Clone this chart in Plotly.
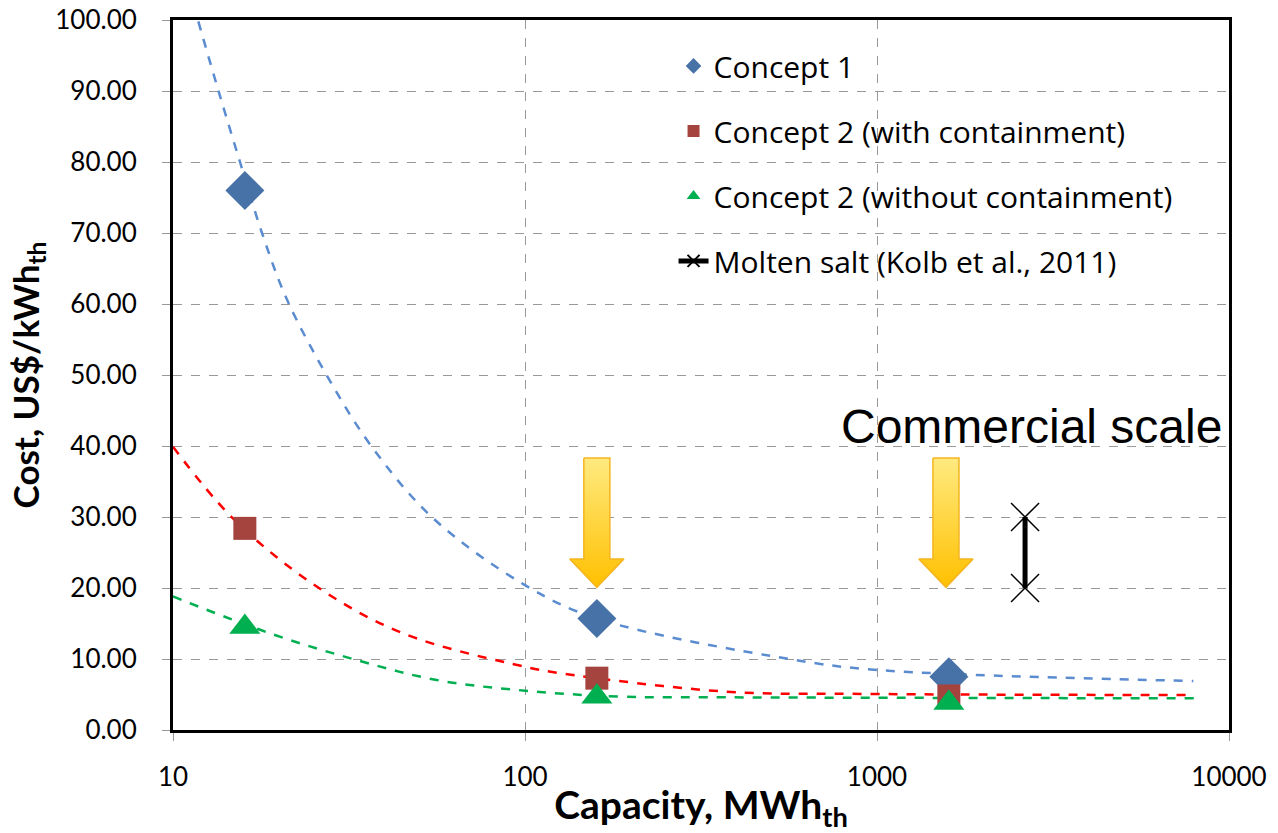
import numpy as np
import plotly.graph_objects as go

# ---- data ----
capacity = [16, 160, 1600]
concept1 = [76.0, 15.7, 7.5]
concept2_with = [28.4, 7.3, 4.8]
concept2_without = [14.5, 4.7, 3.8]

# dashed trend curves
trend1_x = [11.8, 13.45, 15.5, 17.9, 21.0, 27.3, 36.7, 54.9, 100, 160, 578, 1009, 7920]
trend1_y = [99.8, 90.1, 80.0, 70.0, 60.8, 50.0, 39.9, 29.8, 20.4, 15.7, 9.9, 8.45, 6.9]
trend2_x = [10, 14.8, 25.6, 45.1, 100, 126, 374, 1009, 7920]
trend2_y = [39.9, 29.8, 20.2, 13.6, 8.9, 8.0, 5.4, 5.07, 4.93]
trend3_x = [10, 18.9, 33.2, 56.1, 100, 186, 374, 8200]
trend3_y = [18.8, 13.6, 9.86, 7.04, 5.54, 4.7, 4.6, 4.46]

molten_x = [2634, 2634]
molten_y = [20, 30]

arrow_centers = [160, 1570]
arrow_top, arrow_headbase, arrow_tip = 38.3, 24.1, 20.1

x_ticks = [10, 100, 1000, 10000]
y_ticks = list(range(0, 101, 10))

BLUE = "#4672A8"
RED = "#A5443F"
GREEN = "#00B050"

fig = go.Figure()

# trend lines
fig.add_trace(go.Scatter(x=trend1_x, y=trend1_y, mode="lines", line=dict(color="#5B8CD0", dash="dash", width=2.5, shape="spline"), showlegend=False, hoverinfo="skip"))
fig.add_trace(go.Scatter(x=trend2_x, y=trend2_y, mode="lines", line=dict(color="#FF0000", dash="dash", width=2.5, shape="spline"), showlegend=False, hoverinfo="skip"))
fig.add_trace(go.Scatter(x=trend3_x, y=trend3_y, mode="lines", line=dict(color="#00B050", dash="dash", width=2.5, shape="spline"), showlegend=False, hoverinfo="skip"))

# arrows
sh, hh = 0.037, 0.077
ax_, ay_ = [], []
for c in arrow_centers:
    lc = np.log10(c)
    xs = [lc - sh, lc + sh, lc + sh, lc + hh, lc, lc - hh, lc - sh, lc - sh]
    ys = [arrow_top, arrow_top, arrow_headbase, arrow_headbase, arrow_tip, arrow_headbase, arrow_headbase, arrow_top]
    ax_ += [10 ** v for v in xs] + [None]
    ay_ += ys + [None]
fig.add_trace(go.Scatter(x=ax_, y=ay_, mode="lines", fill="toself",
                         line=dict(color="#F5B520", width=1.5),
                         fillgradient=dict(type="vertical", colorscale=[[0, "#FFC000"], [1, "#FFEA80"]]),
                         showlegend=False, hoverinfo="skip"))

# data points
fig.add_trace(go.Scatter(x=capacity, y=concept1, mode="markers", name="Concept 1",
                         marker=dict(symbol="diamond", size=30, color=BLUE), legendgroup="a"))
fig.add_trace(go.Scatter(x=capacity, y=concept2_with, mode="markers", name="Concept 2 (with containment)",
                         marker=dict(symbol="square", size=23, color=RED), legendgroup="b"))
fig.add_trace(go.Scatter(x=capacity, y=concept2_without, mode="markers", name="Concept 2 (without containment)",
                         marker=dict(symbol="triangle-up", size=27, color=GREEN), legendgroup="c"))
fig.add_trace(go.Scatter(x=molten_x, y=molten_y, mode="lines+markers", name="Molten salt (Kolb et al., 2011)",
                         line=dict(color="black", width=5),
                         marker=dict(symbol="x-thin-open", size=28, line=dict(color="#444444", width=1.5)),
                         legendgroup="d"))

fig.add_annotation(text="Commercial scale", xref="paper", yref="paper", x=0.8125, y=0.427,
                   xanchor="center", yanchor="middle",
                   showarrow=False, font=dict(family="Liberation Sans, Arial", size=48, color="black"))

fig.update_layout(
    width=1278, height=833,
    margin=dict(l=173, r=49, t=20, b=103),
    plot_bgcolor="white", paper_bgcolor="white",
    font=dict(family="Lato, Noto Sans", color="black"),
    legend=dict(x=0.474, y=0.972, xanchor="left", yanchor="top", bgcolor="rgba(0,0,0,0)",
                font=dict(family="Open Sans, Lato", size=30), tracegroupgap=23, itemsizing="constant"),
    xaxis=dict(type="log", range=[1, 4], tickvals=x_ticks, ticktext=[str(v) for v in x_ticks],
               showgrid=True, gridcolor="#999999", griddash="dash", gridwidth=1,
               showline=True, linecolor="black", linewidth=3, mirror=True,
               ticks="outside", ticklen=8, tickcolor="#999999",
               tickfont=dict(family="Lato", size=26), ticklabelstandoff=14,
               title=dict(text="<b>Capacity, MWh<sub>th</sub></b>", font=dict(family="Lato", size=39), standoff=2),
               zeroline=False, automargin=False),
    yaxis=dict(range=[0, 100], tickvals=y_ticks, tickformat=".2f",
               showgrid=True, gridcolor="#999999", griddash="dash", gridwidth=1,
               showline=True, linecolor="black", linewidth=3, mirror=True,
               ticks="outside", ticklen=8, tickcolor="#999999",
               tickfont=dict(family="Lato", size=26), ticklabelstandoff=20,
               title=dict(text="<b>Cost, US$/kWh<sub>th</sub></b>", font=dict(family="Lato", size=35), standoff=6),
               zeroline=False, automargin=False),
)

fig.write_html("out.html")
